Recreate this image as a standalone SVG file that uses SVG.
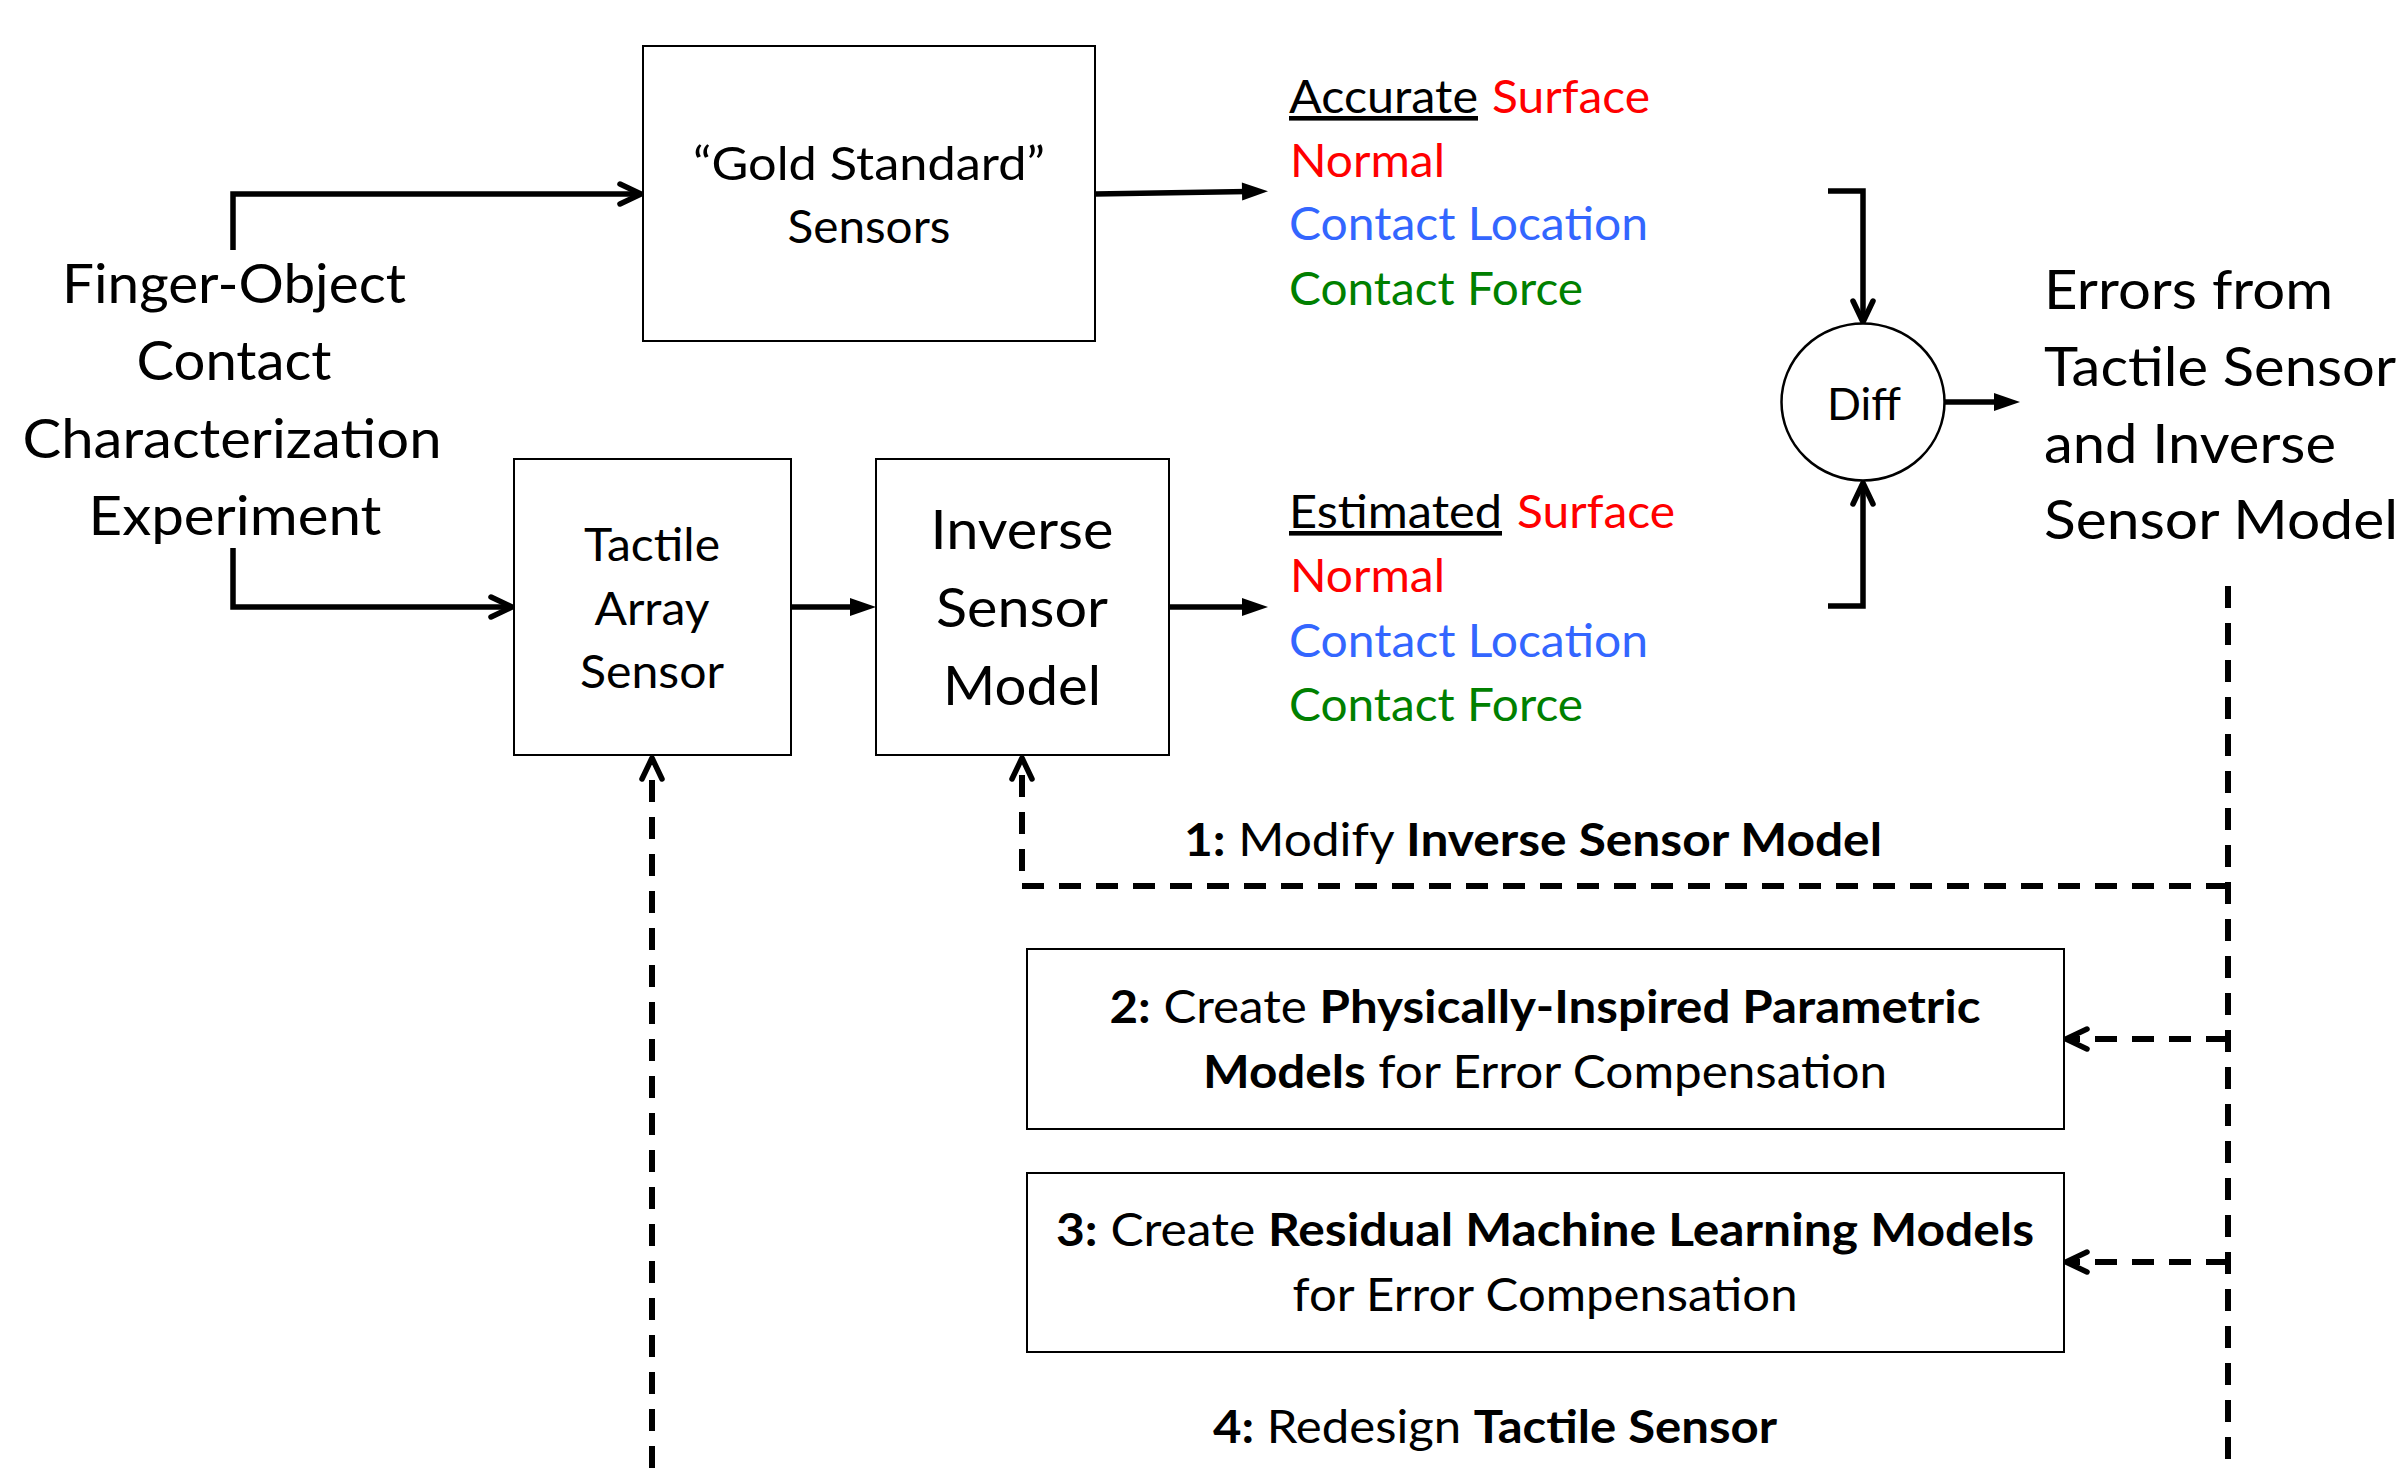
<svg xmlns="http://www.w3.org/2000/svg" width="2408" height="1468" viewBox="0 0 2408 1468">
<style>
.bg{fill:#fff}
.box{fill:#fff;stroke:#000;stroke-width:2}
.t{font-family:Lato,"Open Sans","Liberation Sans",sans-serif;fill:#000}
.m{font-size:46px}
.l{font-size:55px}
.d{font-size:44px}
.b{font-weight:bold}
.red{fill:#ff0000}
.blue{fill:#3366ff}
.green{fill:#008000}
.c{text-anchor:middle}
.conn{fill:none;stroke:#000;stroke-width:5.5;stroke-linejoin:miter}
.dash{stroke-width:6;stroke-dasharray:22 15}
</style>
<defs>
<marker id="open" markerUnits="userSpaceOnUse" viewBox="-28 -16 32 32" refX="0" refY="0" markerWidth="32" markerHeight="32" orient="auto" overflow="visible">
<path d="M-21,-10 L0,0 L-21,10" fill="none" stroke="#000" stroke-width="5.5" stroke-linecap="round" stroke-linejoin="round" stroke-dasharray="none"/>
</marker>
<marker id="fill" markerUnits="userSpaceOnUse" viewBox="-8 -10 30 20" refX="0" refY="0" markerWidth="30" markerHeight="20" orient="auto" overflow="visible">
<path d="M-6,-9 L20,0 L-6,9 Z" fill="#000" stroke="none"/>
</marker>
</defs>
<rect class="bg" x="0" y="0" width="2408" height="1468"/>

<g id="connectors">
<path class="conn" d="M233,250 V194 H641" marker-end="url(#open)"/>
<path class="conn" d="M233,548 V607 H512" marker-end="url(#open)"/>
<path class="conn" d="M1095,194 L1248,191.5" marker-end="url(#fill)"/>
<path class="conn" d="M791,607 H856" marker-end="url(#fill)"/>
<path class="conn" d="M1169,607 H1248" marker-end="url(#fill)"/>
<path class="conn" d="M1828,191 H1863 V322" marker-end="url(#open)"/>
<path class="conn" d="M1828,606 H1863 V483" marker-end="url(#open)"/>
<path class="conn" d="M1945,402 H2000" marker-end="url(#fill)"/>
<path class="conn dash" d="M2228,586 V1468"/>
<path class="conn dash" d="M2228,886 H1022 V758" marker-end="url(#open)"/>
<path class="conn dash" d="M2228,1039 H2066" marker-end="url(#open)"/>
<path class="conn dash" d="M2228,1262 H2066" marker-end="url(#open)"/>
<path class="conn dash" d="M652,1468 V758" marker-end="url(#open)"/>
</g>

<g id="experiment">
<text class="t l c" x="234" y="303" textLength="344" lengthAdjust="spacingAndGlyphs">Finger-Object</text>
<text class="t l c" x="234" y="380" textLength="195" lengthAdjust="spacingAndGlyphs">Contact</text>
<text class="t l c" x="232" y="458" textLength="419" lengthAdjust="spacingAndGlyphs">Characterization</text>
<text class="t l c" x="235" y="535" textLength="293" lengthAdjust="spacingAndGlyphs">Experiment</text>
</g>

<g id="gold-standard">
<rect class="box" x="643" y="46" width="452" height="295"/>
<text class="t m c" x="869" y="180" textLength="352" lengthAdjust="spacingAndGlyphs">“Gold Standard”</text>
<text class="t m c" x="869" y="243" textLength="163" lengthAdjust="spacingAndGlyphs">Sensors</text>
</g>

<g id="tactile-array-sensor">
<rect class="box" x="514" y="459" width="277" height="296"/>
<text class="t m c" x="652" y="561" textLength="136" lengthAdjust="spacingAndGlyphs">Tactile</text>
<text class="t m c" x="652" y="625" textLength="115" lengthAdjust="spacingAndGlyphs">Array</text>
<text class="t m c" x="652" y="688" textLength="144" lengthAdjust="spacingAndGlyphs">Sensor</text>
</g>

<g id="inverse-sensor-model">
<rect class="box" x="876" y="459" width="293" height="296"/>
<text class="t l c" x="1022" y="549" textLength="183" lengthAdjust="spacingAndGlyphs">Inverse</text>
<text class="t l c" x="1022" y="627" textLength="172" lengthAdjust="spacingAndGlyphs">Sensor</text>
<text class="t l c" x="1022" y="705" textLength="158" lengthAdjust="spacingAndGlyphs">Model</text>
</g>

<g id="accurate-outputs">
<text class="t m" x="1289" y="113" textLength="189" lengthAdjust="spacingAndGlyphs" text-decoration="underline">Accurate</text>
<text class="t m red" x="1492" y="113" textLength="158" lengthAdjust="spacingAndGlyphs">Surface</text>
<text class="t m red" x="1290" y="177" textLength="155" lengthAdjust="spacingAndGlyphs">Normal</text>
<text class="t m blue" x="1289" y="240" textLength="359" lengthAdjust="spacingAndGlyphs">Contact Location</text>
<text class="t m green" x="1289" y="305" textLength="294" lengthAdjust="spacingAndGlyphs">Contact Force</text>
</g>

<g id="estimated-outputs">
<text class="t m" x="1289" y="528" textLength="213" lengthAdjust="spacingAndGlyphs" text-decoration="underline">Estimated</text>
<text class="t m red" x="1517" y="528" textLength="158" lengthAdjust="spacingAndGlyphs">Surface</text>
<text class="t m red" x="1290" y="592" textLength="155" lengthAdjust="spacingAndGlyphs">Normal</text>
<text class="t m blue" x="1289" y="657" textLength="359" lengthAdjust="spacingAndGlyphs">Contact Location</text>
<text class="t m green" x="1289" y="721" textLength="294" lengthAdjust="spacingAndGlyphs">Contact Force</text>
</g>

<g id="diff">
<ellipse cx="1863" cy="402" rx="81.5" ry="78.5" fill="#fff" stroke="#000" stroke-width="2.5"/>
<text class="t d c" x="1864" y="420" textLength="74" lengthAdjust="spacingAndGlyphs">Diff</text>
</g>

<g id="errors">
<text class="t l" x="2044" y="309" textLength="289" lengthAdjust="spacingAndGlyphs">Errors from</text>
<text class="t l" x="2044" y="386" textLength="352" lengthAdjust="spacingAndGlyphs">Tactile Sensor</text>
<text class="t l" x="2044" y="463" textLength="292" lengthAdjust="spacingAndGlyphs">and Inverse</text>
<text class="t l" x="2044" y="539" textLength="354" lengthAdjust="spacingAndGlyphs">Sensor Model</text>
</g>

<g id="step1">
<text class="t m" x="1184" y="856" textLength="698" lengthAdjust="spacingAndGlyphs"><tspan class="b">1:</tspan> Modify <tspan class="b">Inverse Sensor Model</tspan></text>
</g>

<g id="step2">
<rect class="box" x="1027" y="949" width="1037" height="180"/>
<text class="t m c" x="1545" y="1023" textLength="871" lengthAdjust="spacingAndGlyphs"><tspan class="b">2:</tspan> Create <tspan class="b">Physically-Inspired Parametric</tspan></text>
<text class="t m c" x="1545" y="1088" textLength="684" lengthAdjust="spacingAndGlyphs"><tspan class="b">Models</tspan> for Error Compensation</text>
</g>

<g id="step3">
<rect class="box" x="1027" y="1173" width="1037" height="179"/>
<text class="t m c" x="1545" y="1246" textLength="978" lengthAdjust="spacingAndGlyphs"><tspan class="b">3:</tspan> Create <tspan class="b">Residual Machine Learning Models</tspan></text>
<text class="t m c" x="1545" y="1311" textLength="505" lengthAdjust="spacingAndGlyphs">for Error Compensation</text>
</g>

<g id="step4">
<text class="t m c" x="1495" y="1443" textLength="564" lengthAdjust="spacingAndGlyphs"><tspan class="b">4:</tspan> Redesign <tspan class="b">Tactile Sensor</tspan></text>
</g>
</svg>
